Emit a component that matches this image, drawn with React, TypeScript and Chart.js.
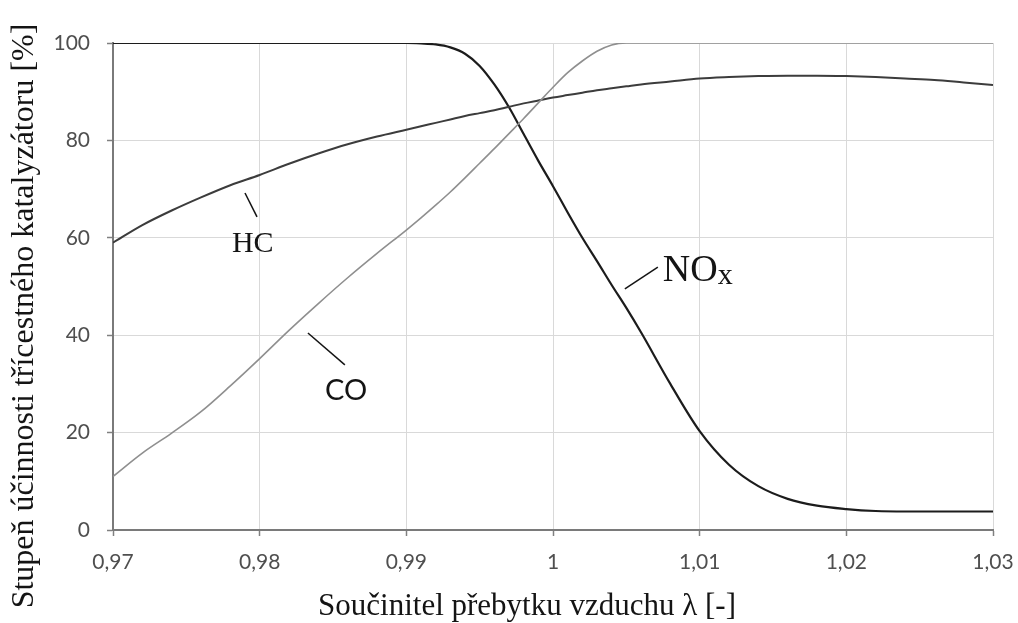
import React, { useEffect, useRef } from 'react';
import { Chart, registerables } from 'chart.js';

Chart.register(...registerables);

// Air excess ratio (lambda) sample points
const lambdaValues = [
  0.970, 0.972, 0.974, 0.976, 0.978, 0.980, 0.982, 0.984, 0.986, 0.988,
  0.990, 0.991, 0.992, 0.993, 0.994, 0.995, 0.996, 0.997, 0.998, 0.999,
  1.000, 1.001, 1.002, 1.003, 1.004, 1.005, 1.006, 1.008, 1.010, 1.012,
  1.014, 1.016, 1.018, 1.020, 1.022, 1.024, 1.026, 1.028, 1.030,
];

// Conversion efficiency [%]
const hcValues = [
  59.0, 62.6, 65.6, 68.3, 70.8, 72.9, 75.2, 77.3, 79.2, 80.8,
  82.2, 82.9, 83.6, 84.3, 85.0, 85.6, 86.2, 86.9, 87.6, 88.2,
  88.8, 89.3, 89.8, 90.3, 90.7, 91.1, 91.5, 92.1, 92.7, 93.0,
  93.2, 93.3, 93.3, 93.2, 93.0, 92.7, 92.4, 91.9, 91.4,
];

const coValues = [
  11.0, 15.8, 19.9, 24.3, 29.6, 35.2, 41.0, 46.5, 51.8, 56.8,
  61.6, 64.1, 66.7, 69.4, 72.3, 75.3, 78.3, 81.4, 84.5, 87.7,
  90.9, 93.9, 96.3, 98.3, 99.6, 100, 100, 100, 100, 100,
  100, 100, 100, 100, 100, 100, 100, 100, 100,
];

const noxValues = [
  100, 100, 100, 100, 100, 100, 100, 100, 100, 100,
  100, 99.9, 99.7, 99.1, 97.8, 95.3, 91.5, 86.8, 81.3, 75.8,
  70.6, 65.2, 60.0, 55.2, 50.3, 45.6, 40.6, 30.0, 20.3, 13.4,
  9.0, 6.4, 5.0, 4.3, 3.9, 3.8, 3.8, 3.8, 3.8,
];

const xTickValues = [0.97, 0.98, 0.99, 1.0, 1.01, 1.02, 1.03];
const xTickLabels = ['0,97', '0,98', '0,99', '1', '1,01', '1,02', '1,03'];
const yTickValues = [0, 20, 40, 60, 80, 100];
const yTickLabels = ['0', '20', '40', '60', '80', '100'];

const xTitle = 'Součinitel přebytku vzduchu λ [-]';
const yTitle = 'Stupeň účinnosti třícestného katalyzátoru [%]';

// Curve labels and their anchors / leader lines, in data coordinates
const seriesNames = ['HC', 'CO', 'NO'];
const labelLambda = [0.97811, 0.98445, 1.00749];
const labelPercent = [57.1, 26.7, 51.1];
const leaderStartLambda = [0.979, 0.98329, 1.0049];
const leaderStartPercent = [69.2, 40.45, 49.5];
const leaderEndLambda = [0.97982, 0.98581, 1.00715];
const leaderEndPercent = [64.3, 33.9, 54.0];

const toPoints = (ys: number[]) => lambdaValues.map((x, i) => ({ x, y: ys[i] }));

const overlayPlugin = {
  id: 'overlay',
  beforeDraw(chart: any) {
    const ctx = chart.ctx;
    ctx.save();
    ctx.fillStyle = '#ffffff';
    ctx.fillRect(0, 0, chart.width, chart.height);
    ctx.restore();
  },
  afterDraw(chart: any) {
    const ctx = chart.ctx;
    const xs = chart.scales.x;
    const ys = chart.scales.y;
    ctx.save();
    ctx.fillStyle = '#141414';
    ctx.strokeStyle = '#141414';

    // axis titles
    ctx.font = '31px "Liberation Serif"';
    ctx.textAlign = 'center';
    ctx.textBaseline = 'alphabetic';
    ctx.fillText(xTitle, 527, 615);

    ctx.save();
    ctx.translate(33, 316);
    ctx.rotate(-Math.PI / 2);
    ctx.font = '32px "Liberation Serif"';
    ctx.fillText(yTitle, 0, 0);
    ctx.restore();

    // leader lines
    ctx.lineWidth = 1.5;
    for (let i = 0; i < seriesNames.length; i++) {
      ctx.beginPath();
      ctx.moveTo(xs.getPixelForValue(leaderStartLambda[i]), ys.getPixelForValue(leaderStartPercent[i]));
      ctx.lineTo(xs.getPixelForValue(leaderEndLambda[i]), ys.getPixelForValue(leaderEndPercent[i]));
      ctx.stroke();
    }

    // curve labels
    ctx.textAlign = 'left';
    ctx.textBaseline = 'alphabetic';
    const px = (i: number) => xs.getPixelForValue(labelLambda[i]);
    const py = (i: number) => ys.getPixelForValue(labelPercent[i]);
    ctx.font = '30px "Liberation Serif"';
    ctx.fillText(seriesNames[0], px(0), py(0));
    ctx.font = '29px Lato';
    ctx.fillText(seriesNames[1], px(1), py(1));
    ctx.font = '38px "Liberation Serif"';
    ctx.fillText(seriesNames[2], px(2), py(2));
    const w = ctx.measureText(seriesNames[2]).width;
    ctx.font = '30px "Liberation Serif"';
    ctx.fillText('x', px(2) + w, py(2) + 3);
    ctx.restore();
  },
};

export default function App() {
  const canvasRef = useRef<HTMLCanvasElement | null>(null);

  useEffect(() => {
    const canvas = canvasRef.current;
    if (!canvas) return;
    const chart = new Chart(canvas, {
      type: 'line',
      data: {
        datasets: [
          {
            label: 'CO',
            data: toPoints(coValues),
            borderColor: '#8f8f8f',
            borderWidth: 1.6,
            pointRadius: 0,
            cubicInterpolationMode: 'monotone',
            fill: false,
          },
          {
            label: 'HC',
            data: toPoints(hcValues),
            borderColor: '#3c3c3c',
            borderWidth: 2,
            pointRadius: 0,
            cubicInterpolationMode: 'monotone',
            fill: false,
          },
          {
            label: 'NOx',
            data: toPoints(noxValues),
            borderColor: '#1c1c1c',
            borderWidth: 2.2,
            pointRadius: 0,
            cubicInterpolationMode: 'monotone',
            fill: false,
          },
        ],
      },
      options: {
        responsive: false,
        animation: false,
        devicePixelRatio: 1,
        layout: { padding: { left: 0, top: 43, right: 25, bottom: 0 } },
        plugins: {
          legend: { display: false },
          tooltip: { enabled: false },
          title: { display: false },
        },
        scales: {
          x: {
            type: 'linear',
            min: 0.97,
            max: 1.03,
            afterBuildTicks: (scale: any) => {
              scale.ticks = xTickValues.map((v) => ({ value: v }));
            },
            afterFit: (scale: any) => {
              scale.height = 93;
              scale.paddingLeft = 0;
              scale.paddingRight = 0;
            },
            ticks: {
              autoSkip: false,
              maxRotation: 0,
              padding: 14,
              color: '#4f4f4f',
              font: { family: 'Lato', size: 21 },
              callback: (_v: any, i: number) => xTickLabels[i],
            },
            grid: {
              color: '#d9d9d9',
              lineWidth: 1,
              tickLength: 6,
              tickColor: '#808080',
              tickWidth: 1.5,
            },
            border: { color: '#7a7a7a', width: 2 },
          },
          y: {
            type: 'linear',
            min: 0,
            max: 100,
            afterBuildTicks: (scale: any) => {
              scale.ticks = yTickValues.map((v) => ({ value: v }));
            },
            afterFit: (scale: any) => {
              scale.width = 113;
              scale.paddingTop = 0;
              scale.paddingBottom = 0;
            },
            ticks: {
              autoSkip: false,
              padding: 17,
              color: '#4f4f4f',
              font: { family: 'Lato', size: 21 },
              callback: (_v: any, i: number) => yTickLabels[i],
            },
            grid: {
              color: '#d9d9d9',
              lineWidth: 1,
              tickLength: 6,
              tickColor: '#808080',
              tickWidth: 1.5,
            },
            border: { color: '#7a7a7a', width: 2 },
          },
        },
      },
      plugins: [overlayPlugin],
    } as any);
    return () => chart.destroy();
  }, []);

  return (
    <div style={{ position: 'fixed', left: 0, top: 0, width: 1018, height: 623, background: '#fff' }}>
      <canvas ref={canvasRef} width={1018} height={623} style={{ display: 'block', width: 1018, height: 623 }} />
    </div>
  );
}
